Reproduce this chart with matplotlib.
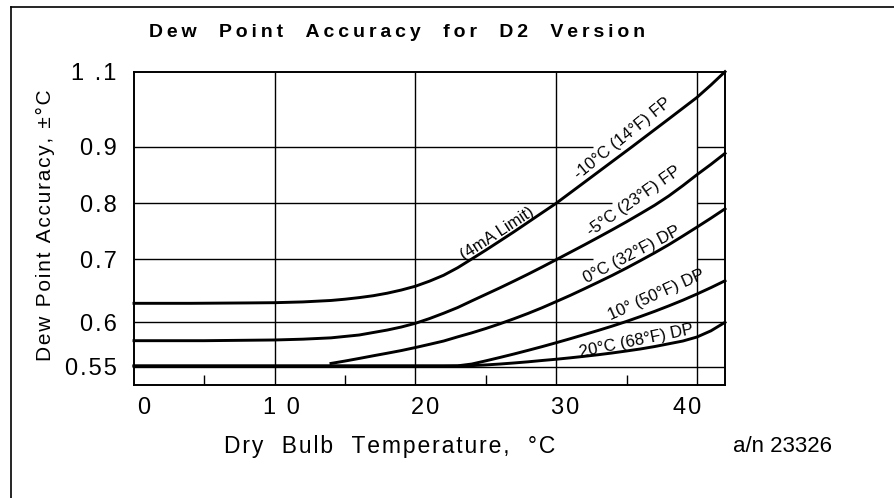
import numpy as np
import matplotlib.pyplot as plt
from matplotlib.lines import Line2D
from matplotlib.transforms import ScaledTranslation

plt.rcParams['font.family'] = ['Liberation Sans', 'DejaVu Sans']

# the y axis of the original is drawn on an uneven scale:
# accuracy value -> height (px) above the 0.55 line
y_knots = [0.50, 0.55, 0.60, 0.70, 0.80, 0.90, 1.10, 1.30]
y_height = [-44.4, 0.0, 44.4, 107.7, 163.4, 220.0, 295.0, 370.0]

y_ticks = [0.55, 0.6, 0.7, 0.8, 0.9, 1.1]
y_ticklabels = ["0.55", "0.6", "0.7", "0.8", "0.9", "1 .1"]
x_ticks = [0, 10, 20, 30, 40]
x_ticklabels = ["0", "1 0", "20", "30", "40"]

# dry bulb temperature (C) vs dew point accuracy (+/- C)
fp10_x = [0, 4, 8, 10, 12, 14, 15, 16, 17, 18, 19, 20, 21, 22, 23, 24, 25, 26,
          27, 28, 29, 30, 32, 34, 35.4, 36, 38, 40, 41, 42]
fp10_y = [0.630, 0.630, 0.6306, 0.631, 0.6322, 0.6345, 0.6365, 0.639, 0.642,
          0.646, 0.651, 0.657, 0.665, 0.6743, 0.6862, 0.700, 0.7159, 0.7323,
          0.7488, 0.7659, 0.783, 0.800, 0.837, 0.8741, 0.900, 0.9171, 0.9739,
          1.0312, 1.0645, 1.100]

fp5_x = [0, 5, 10, 12, 14, 16, 18, 19, 20, 21, 22, 23, 24, 25, 26, 27, 28, 29,
         30, 31, 32, 33, 34, 35, 36, 37, 38, 39, 40, 41, 42]
fp5_y = [0.5793, 0.5793, 0.5801, 0.581, 0.5825, 0.5857, 0.5913, 0.5947, 0.5989,
         0.6059, 0.6143, 0.6233, 0.6338, 0.6441, 0.6544, 0.6651, 0.676, 0.6873,
         0.6989, 0.712, 0.7253, 0.7389, 0.7527, 0.7668, 0.7815, 0.7965, 0.8129,
         0.8311, 0.8504, 0.8688, 0.8882]

dp0_x = [14, 15, 16, 17, 18, 19, 20, 21, 22, 23, 24, 25, 26, 27, 28, 29, 30,
         31, 32, 33, 34, 35, 36, 37, 38, 39, 40, 41, 42]
dp0_y = [0.5537, 0.5564, 0.5593, 0.5623, 0.5652, 0.5682, 0.5716, 0.5752, 0.5789,
         0.5836, 0.5881, 0.593, 0.5983, 0.6056, 0.614, 0.623, 0.6327, 0.6425,
         0.6529, 0.6635, 0.6743, 0.6857, 0.6976, 0.7111, 0.7256, 0.7412, 0.7571,
         0.7733, 0.7901]

dp10_x = [0, 10, 20, 22, 23, 24, 25, 26, 27, 28, 29, 30, 31, 32, 33, 34, 35, 36,
          37, 38, 39, 40, 41, 42]
dp10_y = [0.5508, 0.5508, 0.5508, 0.5508, 0.551, 0.553, 0.5566, 0.5604, 0.5643,
          0.5684, 0.5726, 0.577, 0.5815, 0.5862, 0.5909, 0.5958, 0.6014, 0.6092,
          0.6173, 0.6259, 0.6349, 0.6446, 0.6548, 0.6656]

dp20_x = [0, 10, 20, 23, 24, 25, 26, 27, 28, 29, 30, 31, 32, 33, 34, 35, 36, 37,
          38, 39, 40, 41, 42]
dp20_y = [0.5508, 0.5508, 0.5508, 0.5508, 0.5512, 0.552, 0.553, 0.5542, 0.5555,
          0.557, 0.5584, 0.560, 0.5617, 0.5635, 0.5655, 0.5677, 0.570, 0.5727,
          0.5758, 0.5789, 0.5834, 0.5904, 0.600]


def fwd(v):
    return np.interp(v, y_knots, y_height)


def inv(h):
    return np.interp(h, y_height, y_knots)


def spaced(s, gap='\u200a'):
    # old pdf style letter spacing
    return gap.join(s)


fig = plt.figure(figsize=(8.95, 4.98), dpi=100)
ax = fig.add_axes([134 / 895, 1 - 385 / 498, 591 / 895, 313.3 / 498])
ax.set_yscale('function', functions=(fwd, inv))
ax.set_xlim(0, 42)
ax.set_ylim(0.5294, 1.1)

# grid; a few lines are broken where the curve labels sit
ax.vlines([10, 20, 30, 40], 0.5294, 1.1, color='k', lw=1.0, zorder=1)
ax.hlines([0.55, 0.6], 0, 42, color='k', lw=1.0, zorder=1)
ax.hlines([0.7, 0.8, 0.9], 0, [32.6, 34.0, 32.6], color='k', lw=1.0, zorder=1)
ax.hlines([0.7, 0.8, 0.9], 40, 42, color='k', lw=1.0, zorder=1)

for xs, ys in [(fp10_x, fp10_y), (fp5_x, fp5_y), (dp0_x, dp0_y),
               (dp10_x, dp10_y), (dp20_x, dp20_y)]:
    ax.plot(xs, ys, color='k', lw=2.1, zorder=3, clip_on=False)

lab = dict(fontsize=12, ha='center', va='center', rotation_mode='anchor', zorder=4)
ax.text(25.8, 0.746, "(4mA Limit)", rotation=33, **lab)
ax.text(34.7, 0.922, "-10°C (14°F) FP", rotation=39, **lab)
ax.text(35.5, 0.803, "-5°C (23°F) FP", rotation=35, **lab)
ax.text(35.4, 0.708, "0°C (32°F) DP", rotation=27.5, **lab)
ax.text(37.1, 0.643, "10° (50°F) DP", rotation=24, **lab)
ax.text(35.7, 0.579, "20°C (68°F) DP", rotation=11.6, **lab)

ax.set_yticks(y_ticks, [spaced(t) for t in y_ticklabels], fontsize=17)
ax.set_xticks(x_ticks, [spaced(t) for t in x_ticklabels], fontsize=17)
ax.set_xticks([5, 15, 25, 35], minor=True)
ax.yaxis.set_minor_locator(plt.NullLocator())
ax.tick_params(axis='y', which='major', length=0, pad=12.5)
ax.tick_params(axis='x', which='major', length=0, pad=8.5)
ax.tick_params(axis='x', which='minor', direction='in', length=7, width=1.0)
for sp in ax.spines.values():
    sp.set_linewidth(1.4)

# x labels in the original are not quite centred on their grid lines
for lbl, dx in zip(ax.get_xticklabels(), [9.5, 6.7, 9.3, 9.3, -10]):
    lbl.set_transform(lbl.get_transform() +
                      ScaledTranslation(dx / 100, 0, fig.dpi_scale_trans))

fig.text(397.5 / 895, 1 - 36.7 / 498,
         spaced("Dew  Point  Accuracy  for  D2  Version", '\u2009'),
         ha='center', va='baseline', fontsize=14, fontweight='bold')
fig.text(390 / 895, 1 - 453 / 498,
         spaced("Dry  Bulb  Temperature,  °C"),
         ha='center', va='baseline', fontsize=16.5)
fig.text(45.5 / 895, 1 - 225.5 / 498,
         spaced("Dew Point Accuracy, ±°C"),
         ha='center', va='center', rotation=90, fontsize=15)
fig.text(733 / 895, 1 - 451.7 / 498, "a/n 23326",
         ha='left', va='baseline', fontsize=16)

# outer frame (only top and left edges fall inside the picture)
fig.add_artist(Line2D([11 / 895, 1], [1 - 7.3 / 498] * 2, color='k', lw=1.2))
fig.add_artist(Line2D([11 / 895] * 2, [0, 1 - 7.3 / 498], color='k', lw=1.2))

fig.savefig('out.png', dpi=100)
